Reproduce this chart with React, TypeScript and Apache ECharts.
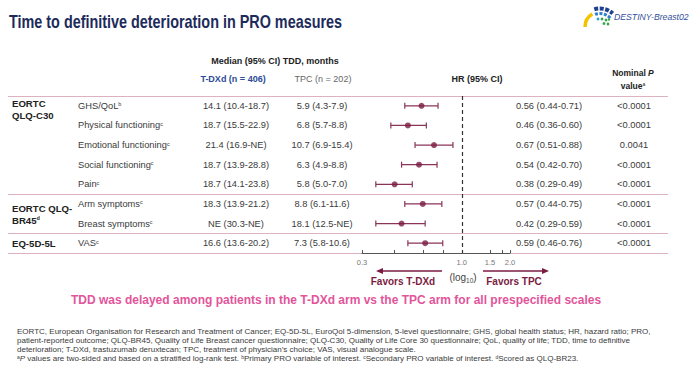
import React, { useEffect, useRef } from "react";
import * as echarts from "echarts";

const rowNames = [
  "GHS/QoL",
  "Physical functioning",
  "Emotional functioning",
  "Social functioning",
  "Pain",
  "Arm symptoms",
  "Breast symptoms",
  "VAS",
];
const rowSup = ["b", "c", "c", "c", "c", "c", "c", "c"];
const groupRows = [0, 5, 7];
const groupLines = [["EORTC", "QLQ-C30"], ["EORTC QLQ-", "BR45"], ["EQ-5D-5L"]];
const groupSup = ["", "d", ""];
const tdxdMedian = [
  "14.1 (10.4-18.7)",
  "18.7 (15.5-22.9)",
  "21.4 (16.9-NE)",
  "18.7 (13.9-28.8)",
  "18.7 (14.1-23.8)",
  "18.3 (13.9-21.2)",
  "NE (30.3-NE)",
  "16.6 (13.6-20.2)",
];
const tpcMedian = [
  "5.9 (4.3-7.9)",
  "6.8 (5.7-8.8)",
  "10.7 (6.9-15.4)",
  "6.3 (4.9-8.8)",
  "5.8 (5.0-7.0)",
  "8.8 (6.1-11.6)",
  "18.1 (12.5-NE)",
  "7.3 (5.8-10.6)",
];
const hrPoint = [0.56, 0.46, 0.67, 0.54, 0.38, 0.57, 0.42, 0.59];
const hrLow = [0.44, 0.36, 0.51, 0.42, 0.29, 0.44, 0.29, 0.46];
const hrHigh = [0.71, 0.6, 0.88, 0.7, 0.49, 0.75, 0.59, 0.76];
const pValues = ["<0.0001", "<0.0001", "0.0041", "<0.0001", "<0.0001", "<0.0001", "<0.0001", "<0.0001"];

const axisMin = 0.2377;
const axisMax = 2.0;
const axisLabelValues = [axisMin, 1.0, 1.5, 2.0];
const axisLabelTexts = ["0.3", "1.0", "1.5", "2.0"];
const axisTickValues = [axisMin, 0.38, 0.57, 0.76, 1.0, 1.5, 1.8, 2.0];

const footnotes = [
  "EORTC, European Organisation for Research and Treatment of Cancer; EQ-5D-5L, EuroQol 5-dimension, 5-level questionnaire; GHS, global health status; HR, hazard ratio; PRO,",
  "patient-reported outcome; QLQ-BR45, Quality of Life Breast cancer questionnaire; QLQ-C30, Quality of Life Core 30 questionnaire; QoL, quality of life; TDD, time to definitive",
  "deterioration; T-DXd, trastuzumab deruxtecan; TPC, treatment of physician\u2019s choice; VAS, visual analogue scale.",
];

const FONT = '"Liberation Sans", Arial, Helvetica, sans-serif';
const MAROON = "#7a1c42";
const PINK_LINE = "#dcb2c0";

export default function App() {
  const ref = useRef<HTMLDivElement>(null);

  useEffect(() => {
    if (!ref.current) return;
    const chart = echarts.init(ref.current, undefined, { renderer: "svg" });
    const lg = Math.log10;
    const hrText = hrPoint.map(
      (v, i) => `${v.toFixed(2)} (${hrLow[i].toFixed(2)}-${hrHigh[i].toFixed(2)})`
    );
    const labelLogs = axisLabelValues.map(lg);

    const TOP = 96;
    const H = 157;
    const TABLE_LEFT = 8;
    const FN = 8;

    const textRich = {
      n: { fontSize: 9.3, color: "#3a3a3a", fontFamily: FONT },
      s: { fontSize: 5.5, color: "#3a3a3a", fontFamily: FONT, verticalAlign: "top" },
      g: { fontSize: 9.6, fontWeight: "bold", color: "#222", fontFamily: FONT, lineHeight: 12 },
      gs: { fontSize: 5.5, fontWeight: "bold", color: "#222", fontFamily: FONT, lineHeight: 12, verticalAlign: "top" },
      sp0: { lineHeight: 8, fontSize: 2 },
      sp5: { lineHeight: 22, fontSize: 2 },
    };

    const labelAxis = (x: number, align: string, formatter: any) => ({
      type: "category",
      gridIndex: 1,
      inverse: true,
      data: rowNames,
      position: "left",
      offset: -(x - TABLE_LEFT),
      axisLine: { show: false },
      axisTick: { show: false },
      splitLine: { show: false },
      axisLabel: {
        show: true,
        margin: 0,
        interval: 0,
        align,
        formatter,
        rich: textRich,
        fontSize: 9.3,
        color: "#3a3a3a",
        fontFamily: FONT,
      },
    });

    const groupFormatter = (_v: string, idx: number) => {
      const gi = groupRows.indexOf(idx);
      if (gi < 0) return "";
      const lines = groupLines[gi].map((l, k) =>
        k === groupLines[gi].length - 1 && groupSup[gi] ? `{g|${l}}{gs|${groupSup[gi]}}` : `{g|${l}}`
      );
      const spacer = gi === 0 ? "{sp0| }\n" : gi === 1 ? "{sp5| }\n" : "";
      return spacer + lines.join("\n");
    };

    const option: any = {
      animation: false,
      backgroundColor: "#ffffff",
      textStyle: { fontFamily: FONT },
      grid: [
        { left: 362, top: TOP, width: 148, height: H },
        { left: TABLE_LEFT, top: TOP, width: 660, height: H },
      ],
      xAxis: [
        { type: "log", logBase: 10, gridIndex: 0, min: axisMin, max: axisMax, show: false },
        {
          type: "value",
          gridIndex: 0,
          position: "bottom",
          min: lg(axisMin),
          max: lg(axisMax),
          axisLine: { show: true, lineStyle: { color: "#555", width: 1 } },
          axisTick: {
            show: true,
            inside: true,
            length: 3,
            customValues: axisTickValues.map(lg),
            lineStyle: { color: "#555", width: 1 },
          },
          axisLabel: {
            customValues: labelLogs,
            formatter: (v: number) => {
              const i = labelLogs.findIndex((x) => Math.abs(x - v) < 1e-6);
              return i >= 0 ? axisLabelTexts[i] : "";
            },
            fontSize: 7.5,
            color: "#777",
            margin: 5,
            fontFamily: FONT,
          },
          splitLine: { show: false },
        },
        { type: "value", gridIndex: 1, show: false, min: 0, max: 1 },
      ],
      yAxis: [
        { type: "category", gridIndex: 0, inverse: true, data: rowNames, show: false },
        {
          type: "category",
          gridIndex: 1,
          inverse: true,
          data: rowNames,
          axisLine: { show: false },
          axisTick: { show: false },
          axisLabel: { show: false },
          splitLine: {
            show: true,
            interval: (i: number) => groupRows.includes(i),
            lineStyle: { color: PINK_LINE, width: 1 },
          },
        },
        labelAxis(12, "left", groupFormatter),
        labelAxis(78, "left", (_v: string, idx: number) => `{n|${rowNames[idx]}}{s|${rowSup[idx]}}`),
        labelAxis(236, "center", (_v: string, idx: number) => tdxdMedian[idx]),
        labelAxis(322, "center", (_v: string, idx: number) => tpcMedian[idx]),
        labelAxis(549, "center", (_v: string, idx: number) => hrText[idx]),
        labelAxis(634, "center", (_v: string, idx: number) => pValues[idx]),
      ],
      series: [
        {
          type: "custom",
          xAxisIndex: 0,
          yAxisIndex: 0,
          data: hrLow.map((lo, i) => [lo, hrHigh[i], i]),
          encode: { x: [0, 1], y: 2 },
          renderItem: (_p: any, api: any) => {
            const y = api.value(2);
            const a = api.coord([api.value(0), y]);
            const b = api.coord([api.value(1), y]);
            const cap = 3;
            const style = { stroke: "#8a3558", lineWidth: 1.2 };
            return {
              type: "group",
              children: [
                { type: "line", shape: { x1: a[0], y1: a[1], x2: b[0], y2: b[1] }, style },
                { type: "line", shape: { x1: a[0], y1: a[1] - cap, x2: a[0], y2: a[1] + cap }, style },
                { type: "line", shape: { x1: b[0], y1: b[1] - cap, x2: b[0], y2: b[1] + cap }, style },
              ],
            };
          },
          z: 2,
        },
        {
          type: "scatter",
          xAxisIndex: 0,
          yAxisIndex: 0,
          data: hrPoint.map((v, i) => [v, i]),
          symbol: "circle",
          symbolSize: 6,
          itemStyle: { color: MAROON },
          z: 3,
          markLine: {
            silent: true,
            symbol: ["none", "none"],
            label: { show: false },
            lineStyle: { color: "#333", type: [4, 3], width: 1.2 },
            data: [{ xAxis: 1 }],
          },
        },
      ],
      graphic: [
        {
          type: "text",
          x: 9,
          y: 21,
          scaleX: 0.8,
          style: {
            text: "Time to definitive deterioration in PRO measures",
            font: `bold 18px ${FONT}`,
            fill: "#1d2b5b",
            verticalAlign: "middle",
            align: "left",
          },
        },
        // logo
        {
          type: "group",
          children: [
            { type: "arc", shape: { cx: 600, cy: 27, r: 15, startAngle: Math.PI * 1.0, endAngle: Math.PI * 1.33 }, style: { stroke: "#f2c300", lineWidth: 3.5, fill: "none" } },
            { type: "arc", shape: { cx: 600, cy: 27, r: 18.5, startAngle: Math.PI * 1.4, endAngle: Math.PI * 1.74 }, style: { stroke: "#1f3f8f", lineWidth: 4, fill: "none", lineDash: [4, 1.5] } },
            { type: "arc", shape: { cx: 600, cy: 27, r: 13.5, startAngle: Math.PI * 1.38, endAngle: Math.PI * 1.8 }, style: { stroke: "#2f7fd0", lineWidth: 3, fill: "none", lineDash: [3, 1.5] } },
            { type: "circle", shape: { cx: 598, cy: 19, r: 1.4 }, style: { fill: "#2f9fd8" } },
            { type: "circle", shape: { cx: 602, cy: 19, r: 1.4 }, style: { fill: "#36a64a" } },
            { type: "circle", shape: { cx: 606, cy: 20, r: 1.4 }, style: { fill: "#36a64a" } },
            { type: "circle", shape: { cx: 604, cy: 23.5, r: 1.4 }, style: { fill: "#36a64a" } },
            { type: "circle", shape: { cx: 608, cy: 24, r: 1.4 }, style: { fill: "#36a64a" } },
            { type: "circle", shape: { cx: 609, cy: 19.5, r: 1.2 }, style: { fill: "#36a64a" } },
          ],
        },
        {
          type: "text",
          x: 614,
          y: 17,
          style: { text: "DESTINY-Breast02", font: `italic 8.7px ${FONT}`, fill: "#34509a", verticalAlign: "middle", align: "left" },
        },
        // headers
        {
          type: "text",
          x: 275,
          y: 61,
          style: { text: "Median (95% CI) TDD, months", font: `bold 9px ${FONT}`, fill: "#222", align: "center", verticalAlign: "middle" },
        },
        {
          type: "text",
          x: 233,
          y: 79,
          style: { text: "T-DXd (n = 406)", font: `bold 9px ${FONT}`, fill: "#2c4c98", align: "center", verticalAlign: "middle" },
        },
        {
          type: "text",
          x: 323,
          y: 79,
          style: { text: "TPC (n = 202)", font: `9px ${FONT}`, fill: "#666", align: "center", verticalAlign: "middle" },
        },
        {
          type: "text",
          x: 477,
          y: 79,
          style: { text: "HR (95% CI)", font: `bold 9px ${FONT}`, fill: "#222", align: "center", verticalAlign: "middle" },
        },
        {
          type: "text",
          x: 633,
          y: 73,
          style: {
            text: "{b|Nominal }{bi|P}",
            align: "center",
            verticalAlign: "middle",
            rich: {
              b: { fontSize: 8.5, fontWeight: "bold", fill: "#222", fontFamily: FONT },
              bi: { fontSize: 8.5, fontWeight: "bold", fontStyle: "italic", fill: "#222", fontFamily: FONT },
            },
          },
        },
        {
          type: "text",
          x: 633,
          y: 86,
          style: {
            text: "{b|value}{s|a}",
            align: "center",
            verticalAlign: "middle",
            rich: {
              b: { fontSize: 8.5, fontWeight: "bold", fill: "#222", fontFamily: FONT },
              s: { fontSize: 5, fill: "#222", fontFamily: FONT, verticalAlign: "top" },
            },
          },
        },
        // arrows
        {
          type: "group",
          children: [
            { type: "line", shape: { x1: 442, y1: 271, x2: 381, y2: 271 }, style: { stroke: MAROON, lineWidth: 1.5 } },
            { type: "polygon", shape: { points: [[376, 271], [383, 268], [383, 274]] }, style: { fill: MAROON } },
            { type: "line", shape: { x1: 483, y1: 271, x2: 544, y2: 271 }, style: { stroke: MAROON, lineWidth: 1.5 } },
            { type: "polygon", shape: { points: [[549, 271], [542, 268], [542, 274]] }, style: { fill: MAROON } },
          ],
        },
        {
          type: "text",
          x: 403,
          y: 281,
          style: { text: "Favors T-DXd", font: `bold 10px ${FONT}`, fill: MAROON, align: "center", verticalAlign: "middle" },
        },
        {
          type: "text",
          x: 514,
          y: 281,
          style: { text: "Favors TPC", font: `bold 10px ${FONT}`, fill: MAROON, align: "center", verticalAlign: "middle" },
        },
        {
          type: "text",
          x: 463,
          y: 277,
          style: {
            text: "{n|(log}{u|10}{n|)}",
            align: "center",
            verticalAlign: "middle",
            rich: {
              n: { fontSize: 10, fill: "#444", fontFamily: FONT },
              u: { fontSize: 6.5, fill: "#444", fontFamily: FONT, padding: [6, 0, 0, 0] },
            },
          },
        },
        {
          type: "text",
          x: 336,
          y: 300,
          style: {
            text: "TDD was delayed among patients in the T-DXd arm vs the TPC arm for all prespecified scales",
            font: `bold 12px ${FONT}`,
            fill: "#e2559b",
            align: "center",
            verticalAlign: "middle",
          },
        },
        ...footnotes.map((t, i) => ({
          type: "text",
          x: 17,
          y: 331 + i * 9,
          style: { text: t, font: `${FN}px ${FONT}`, fill: "#3a3a3a", align: "left", verticalAlign: "middle" },
        })),
        {
          type: "text",
          x: 17,
          y: 358,
          style: {
            text:
              "{s|a}{i|P}{n| values are two-sided and based on a stratified log-rank test. }{s|b}{n|Primary PRO variable of interest. }{s|c}{n|Secondary PRO variable of interest. }{s|d}{n|Scored as QLQ-BR23.}",
            align: "left",
            verticalAlign: "middle",
            rich: {
              n: { fontSize: FN, fill: "#3a3a3a", fontFamily: FONT },
              i: { fontSize: FN, fill: "#3a3a3a", fontStyle: "italic", fontFamily: FONT },
              s: { fontSize: 5, fill: "#3a3a3a", fontFamily: FONT, verticalAlign: "top" },
            },
          },
        },
      ],
    };

    chart.setOption(option);
    return () => chart.dispose();
  }, []);

  return (
    <div
      ref={ref}
      style={{ position: "fixed", left: 0, top: 0, width: 692, height: 367, background: "#fff" }}
    />
  );
}
